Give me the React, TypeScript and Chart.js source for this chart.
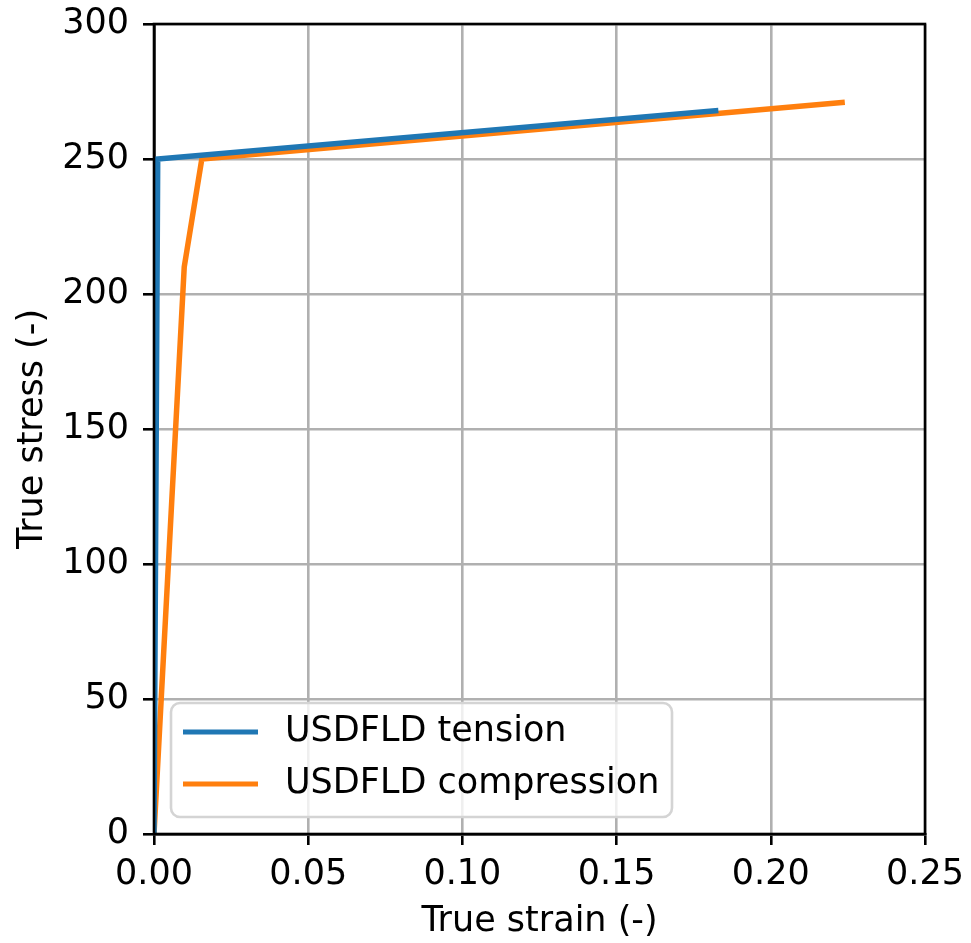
import React, { useEffect, useRef } from "react";
import { Chart, registerables } from "chart.js";

Chart.register(...registerables);

// Tension curve (true strain, true stress)
const tensionStrain = [0, 0.0012, 0.183];
const tensionStress = [0, 250, 268];

// Compression curve (true strain, true stress)
const compressionStrain = [0, 0.0098, 0.0155, 0.224];
const compressionStress = [0, 210, 250, 271];

const seriesLabels = ["USDFLD tension", "USDFLD compression"];
const seriesColors = ["#1f77b4", "#ff7f0e"];

const xTicks = [0, 0.05, 0.1, 0.15, 0.2, 0.25];
const yTicks = [0, 50, 100, 150, 200, 250, 300];

const FONT = "'DejaVu Sans', sans-serif";
const FONT_SIZE = 35;

const toPoints = (xs: number[], ys: number[]) => xs.map((x, i) => ({ x, y: ys[i] }));

// Draws the four axis spines and a matplotlib-style legend inside the plot.
const framePlugin = {
  id: "frameAndLegend",
  afterDatasetsDraw(chart: any) {
    const { ctx, chartArea } = chart;
    const { left, right, top, bottom } = chartArea;
    ctx.save();
    ctx.strokeStyle = "#000";
    ctx.lineWidth = 2.6;
    ctx.strokeRect(left, top, right - left, bottom - top);

    // legend box
    const bx = left + 17;
    const bw = 501;
    const bh = 114;
    const by = bottom - 17 - bh;
    const r = 9;
    ctx.beginPath();
    ctx.moveTo(bx + r, by);
    ctx.lineTo(bx + bw - r, by);
    ctx.arcTo(bx + bw, by, bx + bw, by + r, r);
    ctx.lineTo(bx + bw, by + bh - r);
    ctx.arcTo(bx + bw, by + bh, bx + bw - r, by + bh, r);
    ctx.lineTo(bx + r, by + bh);
    ctx.arcTo(bx, by + bh, bx, by + bh - r, r);
    ctx.lineTo(bx, by + r);
    ctx.arcTo(bx, by, bx + r, by, r);
    ctx.closePath();
    ctx.fillStyle = "rgba(255,255,255,0.8)";
    ctx.fill();
    ctx.strokeStyle = "#d4d4d4";
    ctx.lineWidth = 2.6;
    ctx.stroke();

    ctx.font = `${FONT_SIZE}px ${FONT}`;
    ctx.textBaseline = "middle";
    ctx.textAlign = "left";
    chart.data.datasets.forEach((ds: any, i: number) => {
      const y = by + 29 + i * 52;
      ctx.strokeStyle = ds.borderColor;
      ctx.lineWidth = 5;
      ctx.beginPath();
      ctx.moveTo(bx + 12, y);
      ctx.lineTo(bx + 87, y);
      ctx.stroke();
      ctx.fillStyle = "#000";
      ctx.fillText(ds.label, bx + 114, y);
    });
    ctx.restore();
  },
};

export default function App() {
  const canvasRef = useRef<HTMLCanvasElement>(null);

  useEffect(() => {
    const canvas = canvasRef.current;
    if (!canvas) return;
    const chart = new Chart(canvas, {
      type: "line",
      data: {
        datasets: [
          {
            label: seriesLabels[0],
            data: toPoints(tensionStrain, tensionStress),
            borderColor: seriesColors[0],
            backgroundColor: seriesColors[0],
            borderWidth: 5.5,
            pointRadius: 0,
            tension: 0,
          },
          {
            label: seriesLabels[1],
            data: toPoints(compressionStrain, compressionStress),
            borderColor: seriesColors[1],
            backgroundColor: seriesColors[1],
            borderWidth: 5.5,
            pointRadius: 0,
            tension: 0,
          },
        ],
      },
      options: {
        responsive: false,
        animation: false,
        devicePixelRatio: 1,
        layout: { padding: { left: 0, right: 46, top: 24, bottom: 0 } },
        plugins: { legend: { display: false }, tooltip: { enabled: false } },
        scales: {
          x: {
            type: "linear",
            min: 0,
            max: 0.25,
            afterFit: (scale: any) => {
              scale.height = 109;
              scale.paddingLeft = 0;
              scale.paddingRight = 0;
            },
            afterBuildTicks: (scale: any) => {
              scale.ticks = xTicks.map((v) => ({ value: v }));
            },
            ticks: {
              color: "#000",
              font: { family: FONT, size: FONT_SIZE },
              padding: 9,
              maxRotation: 0,
              callback: (v: any) => Number(v).toFixed(2),
            },
            grid: {
              color: "#b0b0b0",
              lineWidth: 2.6,
              tickColor: "#000",
              tickWidth: 2.6,
              tickLength: 11,
            },
            border: { color: "#000", width: 2.6 },
            title: {
              display: true,
              text: "True strain (-)",
              color: "#000",
              font: { family: FONT, size: FONT_SIZE },
              padding: { top: 0, bottom: 0 },
            },
          },
          y: {
            type: "linear",
            min: 0,
            max: 300,
            afterFit: (scale: any) => {
              scale.width = 154;
              scale.paddingTop = 0;
              scale.paddingBottom = 0;
            },
            afterBuildTicks: (scale: any) => {
              scale.ticks = yTicks.map((v) => ({ value: v }));
            },
            ticks: {
              color: "#000",
              font: { family: FONT, size: FONT_SIZE },
              padding: 14,
              callback: (v: any) => String(v),
            },
            grid: {
              color: "#b0b0b0",
              lineWidth: 2.6,
              tickColor: "#000",
              tickWidth: 2.6,
              tickLength: 11,
            },
            border: { color: "#000", width: 2.6 },
            title: {
              display: true,
              text: "True stress (-)",
              color: "#000",
              font: { family: FONT, size: FONT_SIZE },
              padding: { top: 12, bottom: 0 },
            },
          },
        },
      },
      plugins: [framePlugin],
    });
    return () => chart.destroy();
  }, []);

  return (
    <div style={{ position: "absolute", left: 0, top: 0, width: 971, height: 943, background: "#fff" }}>
      <canvas ref={canvasRef} width={971} height={943} style={{ display: "block", width: 971, height: 943 }} />
    </div>
  );
}
